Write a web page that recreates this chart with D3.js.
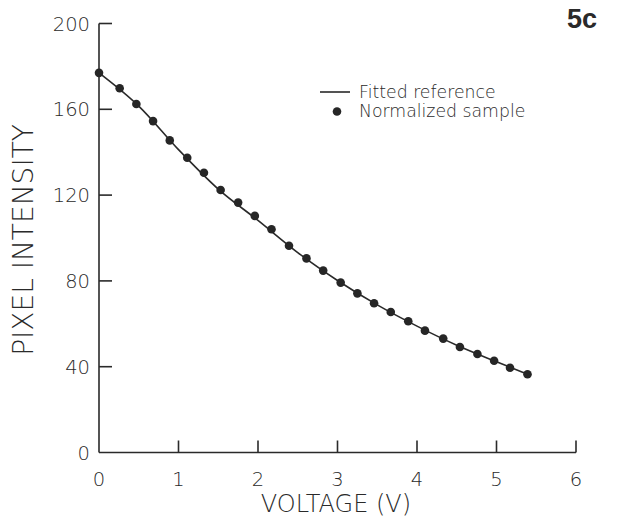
<!DOCTYPE html>
<html lang="en">
<head>
    <meta charset="UTF-8">
    <title>Pixel intensity vs voltage</title>
    <script src="https://d3js.org/d3.v7.min.js"></script>
    <style>
        body { margin: 0; background: #fff; }
        svg text { font-family: "DejaVu Sans", sans-serif; font-weight: 200; fill: #2a2a2a; }
        .axis-line { stroke: #2a2a2a; stroke-width: 1.6; }
        .fit { fill: none; stroke: #2a2a2a; stroke-width: 1.6; }
        .dot { fill: #262626; }
    </style>
</head>
<body>
    <svg width="621" height="519"></svg>
    <script>
        // sample points
        const voltage = [0, 0.26, 0.47, 0.68, 0.89, 1.11, 1.32, 1.53, 1.75, 1.96, 2.17, 2.39, 2.61,
                         2.82, 3.04, 3.25, 3.46, 3.67, 3.89, 4.10, 4.33, 4.54, 4.76, 4.97, 5.17, 5.39];
        const intensity = [177, 169.8, 162.5, 154.5, 145.5, 137.4, 130.4, 122.4, 116.5, 110.3, 104.1, 96.4, 90.5,
                           84.8, 79.2, 74.2, 69.6, 65.5, 61.2, 56.8, 53.1, 49.2, 45.9, 42.8, 39.5, 36.5];
        // fitted reference curve
        const fitV = [0, 0.5, 1, 1.5, 2, 2.5, 3, 3.5, 4, 4.5, 5, 5.39];
        const fitI = [177, 161.5, 141.2, 122.8, 108.2, 93.2, 80.2, 68.8, 58.9, 50, 42.3, 36.5];

        const xTicks = [0, 1, 2, 3, 4, 5, 6];
        const yTicks = [0, 40, 80, 120, 160, 200];

        const svg = d3.select("svg");
        const x = d3.scaleLinear().domain([0, 6]).range([99, 576]);
        const y = d3.scaleLinear().domain([0, 200]).range([452.5, 23.5]);

        // axes drawn by hand so ticks point inward like the original
        const g = svg.append("g");
        g.append("line").attr("class", "axis-line")
            .attr("x1", x(0)).attr("x2", x(6)).attr("y1", y(0)).attr("y2", y(0));
        g.append("line").attr("class", "axis-line")
            .attr("x1", x(0)).attr("x2", x(0)).attr("y1", y(0)).attr("y2", y(200));

        g.selectAll(".xt").data(xTicks.slice(1)).join("line")
            .attr("class", "axis-line")
            .attr("x1", d => x(d)).attr("x2", d => x(d))
            .attr("y1", y(0)).attr("y2", y(0) - 12);
        g.selectAll(".yt").data(yTicks.slice(1)).join("line")
            .attr("class", "axis-line")
            .attr("x1", x(0)).attr("x2", x(0) + 13)
            .attr("y1", d => y(d)).attr("y2", d => y(d));

        g.selectAll(".xl").data(xTicks).join("text")
            .attr("x", d => x(d)).attr("y", 486)
            .attr("text-anchor", "middle")
            .style("font-size", "19.5px")
            .text(d => d);
        g.selectAll(".yl").data(yTicks).join("text")
            .attr("x", 90).attr("y", d => y(d) + 7)
            .attr("text-anchor", "end")
            .style("font-size", "19.5px")
            .text(d => d);

        svg.append("text")
            .attr("x", 336).attr("y", 512)
            .attr("text-anchor", "middle")
            .style("font-size", "24px")
            .text("VOLTAGE (V)");
        svg.append("text")
            .attr("transform", "translate(33,240) rotate(-90)")
            .attr("text-anchor", "middle")
            .style("font-size", "28px")
            .text("PIXEL INTENSITY");

        svg.append("text")
            .attr("x", 597).attr("y", 28)
            .attr("text-anchor", "end")
            .style("font-size", "27px")
            .style("font-weight", "700")
            .style("font-family", "'Liberation Sans', Arial, sans-serif")
            .text("5c");

        // fitted curve
        const fit = fitV.map((v, i) => [v, fitI[i]]);
        svg.append("path").datum(fit)
            .attr("class", "fit")
            .attr("d", d3.line().x(d => x(d[0])).y(d => y(d[1])).curve(d3.curveMonotoneX));

        // normalized sample points
        svg.selectAll(".dot").data(voltage.map((v, i) => ({v, i: intensity[i]}))).join("circle")
            .attr("class", "dot")
            .attr("r", 4.3)
            .attr("cx", d => x(d.v)).attr("cy", d => y(d.i));

        // legend
        const lg = svg.append("g");
        lg.append("line").attr("class", "axis-line")
            .attr("x1", 320).attr("x2", 350).attr("y1", 92).attr("y2", 92);
        lg.append("circle").attr("class", "dot").attr("r", 4.3).attr("cx", 337).attr("cy", 111.5);
        lg.append("text").attr("x", 359).attr("y", 98).style("font-size", "17.3px").text("Fitted reference");
        lg.append("text").attr("x", 359).attr("y", 117).style("font-size", "17.3px").text("Normalized sample");
    </script>
</body>
</html>
